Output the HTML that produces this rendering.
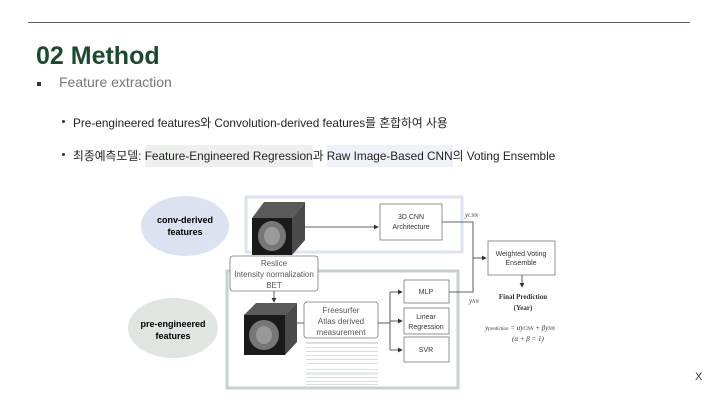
<!DOCTYPE html>
<html><head><meta charset="utf-8"><style>
body{margin:0;width:720px;height:405px;background:#fff;overflow:hidden;position:relative;font-family:"Liberation Sans","Noto Sans CJK KR",sans-serif}
.a{position:absolute;white-space:nowrap}
</style></head><body>
<div class="a" style="left:28px;top:22px;width:662px;height:1px;background:#5a6270"></div>
<div class="a" style="left:36px;top:42px;font-size:25px;font-weight:bold;color:#1d4a2f">02 Method</div>
<div class="a" style="left:37px;top:82px;width:4px;height:4px;background:#333"></div>
<div class="a" style="left:59px;top:74px;font-size:14px;color:#777">Feature extraction</div>
<div class="a" style="left:62px;top:120px;width:3px;height:3px;border-radius:50%;background:#333"></div>
<div class="a" style="left:73px;top:114px;font-size:11.8px;color:#222">Pre-engineered features와 Convolution-derived features를 혼합하여 사용</div>
<div class="a" style="left:62px;top:153px;width:3px;height:3px;border-radius:50%;background:#333"></div>
<div class="a" style="left:73px;top:147px;font-size:11.8px;color:#222">최종예측모델: <span style="background:#eef0ee;padding:4px 0">Feature-Engineered Regression</span>과 <span style="background:#eef1f8;padding:4px 0">Raw Image-Based CNN</span>의 Voting Ensemble</div>
<div class="a" style="left:695px;top:371px;font-size:11px;color:#333">X</div>
<svg class="a" style="left:0;top:0" width="720" height="405" font-family="Liberation Sans, sans-serif">
<defs><marker id="ar" markerWidth="6" markerHeight="6" refX="5" refY="3" orient="auto"><path d="M0,0L6,3L0,6z" fill="#333"/></marker></defs>
<ellipse cx="185" cy="226" rx="44" ry="30" fill="#dde2f0"/>
<text x="185" y="223" font-size="9" font-weight="bold" text-anchor="middle">conv-derived</text>
<text x="185" y="235" font-size="9" font-weight="bold" text-anchor="middle">features</text>
<ellipse cx="173" cy="328" rx="45" ry="30" fill="#e1e5e2"/>
<text x="173" y="327" font-size="9" font-weight="bold" text-anchor="middle">pre-engineered</text>
<text x="173" y="339" font-size="9" font-weight="bold" text-anchor="middle">features</text>
<rect x="246" y="197" width="216" height="55" fill="none" stroke="#dde3f2" stroke-width="3"/>
<rect x="227" y="271" width="231" height="117" fill="none" stroke="#c8d2cc" stroke-width="3"/>
<!-- cube 1 -->
<polygon points="252,218 264,202 305,202 292,218" fill="#5a5a5a"/>
<polygon points="292,218 305,202 305,240 292,255" fill="#4a4a4a"/>
<rect x="252" y="218" width="40" height="37" fill="#1a1a1a"/>
<ellipse cx="272" cy="236" rx="14" ry="15" fill="#777"/>
<ellipse cx="272" cy="236" rx="8" ry="9" fill="#999"/>
<!-- cube 2 -->
<polygon points="244,315 256,303 297,303 285,315" fill="#5a5a5a"/>
<polygon points="285,315 297,303 297,342 285,355" fill="#4a4a4a"/>
<rect x="244" y="315" width="41" height="40" fill="#1a1a1a"/>
<ellipse cx="264" cy="335" rx="15" ry="15" fill="#777"/>
<ellipse cx="264" cy="335" rx="8" ry="9" fill="#999"/>
<g fill="none" stroke="#333" stroke-width="0.8">
<line x1="305" y1="227" x2="378" y2="227" marker-end="url(#ar)"/>
<line x1="274" y1="291" x2="274" y2="302" marker-end="url(#ar)"/>
<line x1="297" y1="323" x2="304" y2="323"/>
<line x1="378" y1="323" x2="390" y2="323"/>
<line x1="390" y1="292" x2="390" y2="350"/>
<line x1="390" y1="292" x2="402" y2="292" marker-end="url(#ar)"/>
<line x1="390" y1="321" x2="402" y2="321" marker-end="url(#ar)"/>
<line x1="390" y1="350" x2="402" y2="350" marker-end="url(#ar)"/>
<polyline points="442,222 473,222 473,292 449,292"/>
<line x1="473" y1="258" x2="486" y2="258" marker-end="url(#ar)"/>
<line x1="522" y1="275" x2="522" y2="287" marker-end="url(#ar)"/>
</g>
<g fill="#fff" stroke="#777" stroke-width="0.8">
<rect x="230" y="256" width="88" height="35" rx="3"/>
<rect x="380" y="204" width="62" height="36"/>
<rect x="304" y="302" width="74" height="36" rx="3"/>
<rect x="404" y="280" width="45" height="23"/>
<rect x="404" y="308" width="45" height="26"/>
<rect x="404" y="337" width="45" height="25"/>
<rect x="488" y="241" width="67" height="34"/>
</g>
<g font-size="8" fill="#555" text-anchor="middle">
<text x="274" y="266">Reslice</text>
<text x="274" y="277">Intensity normalization</text>
<text x="274" y="288">BET</text>
<text x="341" y="313">Freesurfer</text>
<text x="341" y="324">Atlas derived</text>
<text x="341" y="335">measurement</text>
</g>
<g font-size="7" fill="#333" text-anchor="middle">
<text x="411" y="219">3D CNN</text>
<text x="411" y="229">Architecture</text>
<text x="426" y="294">MLP</text>
<text x="426" y="319">Linear</text>
<text x="426" y="329">Regression</text>
<text x="426" y="352">SVR</text>
<text x="521" y="256">Weighted Voting</text>
<text x="521" y="265">Ensemble</text>
<text x="523" y="299" font-weight="bold" font-family="Liberation Serif, serif">Final Prediction</text>
<text x="523" y="310" font-weight="bold" font-family="Liberation Serif, serif">(Year)</text>
</g>
<g font-family="Liberation Serif, serif" font-style="italic" font-size="7" fill="#333">
<text x="465" y="217">y<tspan font-size="5">CNN</tspan></text>
<text x="469" y="303">y<tspan font-size="5">NN</tspan></text>
<text x="485" y="330">y<tspan font-size="5">prediction</tspan> = αy<tspan font-size="5">CNN</tspan> + βy<tspan font-size="5">NN</tspan></text>
<text x="512" y="341">(α + β = 1)</text>
</g>
<g fill="#ddd">
<rect x="306" y="342" width="72" height="2"/>
<rect x="306" y="347" width="72" height="1"/><rect x="306" y="351" width="72" height="1"/><rect x="306" y="355" width="72" height="1"/>
<rect x="306" y="359" width="72" height="1"/><rect x="306" y="363" width="72" height="1"/>
<rect x="306" y="369" width="72" height="1"/><rect x="306" y="372" width="72" height="3" fill="#e4ebf5"/>
<rect x="306" y="377" width="72" height="1"/><rect x="306" y="381" width="72" height="1"/><rect x="306" y="384" width="72" height="1"/>
</g>
</svg>
</body></html>
